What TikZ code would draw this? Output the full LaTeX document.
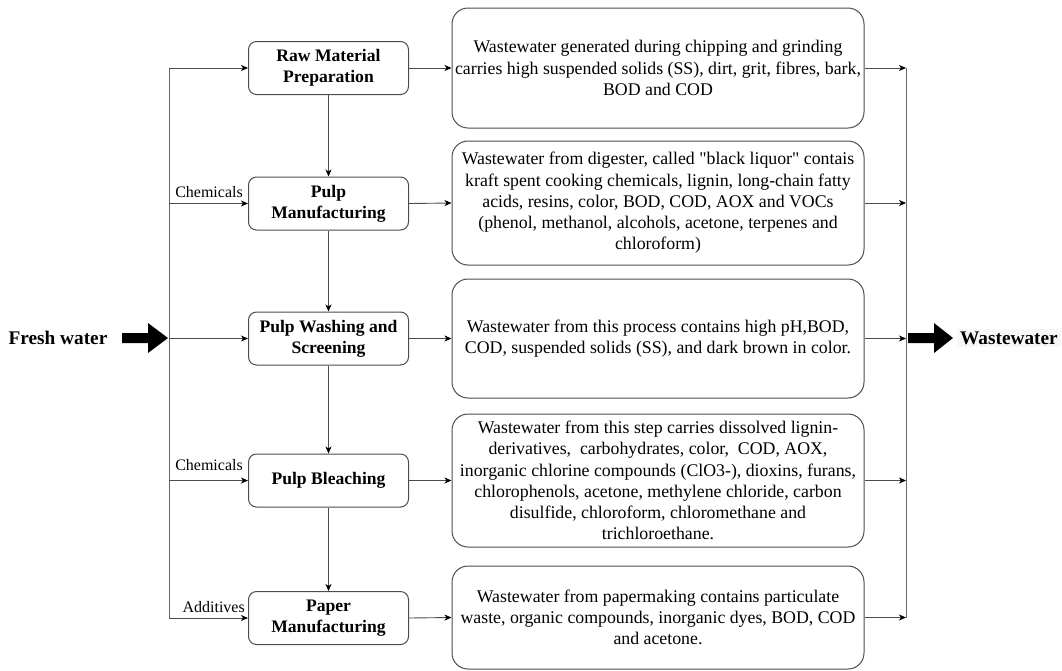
\documentclass[tikz,border=0pt]{standalone}
\usepackage{fontspec}
\setmainfont{Liberation Serif}[Ligatures=TeXOff]
\usetikzlibrary{arrows.meta}
\tikzset{
  proc/.style={draw=black!70, line width=1pt, rounded corners=8pt, minimum width=160pt,
    minimum height=53pt, align=center, inner sep=0pt,
    font=\fontsize{17.6}{21}\selectfont\bfseries},
  desc/.style={draw=black!70, line width=1pt, rounded corners=16pt, minimum width=412pt,
    align=center, inner sep=0pt, font=\fontsize{17.8}{21.3}\selectfont},
  conn/.style={draw=black!70, line width=0.9pt,
    -{Stealth[length=7pt,width=6pt,inset=2pt,color=black]}},
  bus/.style={draw=black!60, line width=1pt},
  side/.style={font=\fontsize{16}{19}\selectfont, inner sep=0pt},
  big/.style={font=\fontsize{19.3}{23}\selectfont\bfseries, inner sep=2pt},
  fat/.style={fill=black}
}
\begin{document}
\begin{tikzpicture}[x=1pt,y=-1pt]
\useasboundingbox (0,0) rectangle (1062,670);

% process boxes
\node[proc] (p1) at (328.5,68)  {Raw Material\\Preparation};
\node[proc] (p2) at (328.5,203.5) {Pulp\\Manufacturing};
\node[proc] (p3) at (328.5,338.5) {Pulp Washing and\\Screening};
\node[proc] (p4) at (328.5,480.5) {Pulp Bleaching};
\node[proc] (p5) at (328.5,618) {Paper\\Manufacturing};

% description boxes
\node[desc, minimum height=120pt] (d1) at (658,68)
  {Wastewater generated during chipping and grinding\\carries high suspended solids (SS), dirt, grit, fibres, bark,\\BOD and COD};
\node[desc, minimum height=124pt] (d2) at (658,203)
  {Wastewater from digester, called "black liquor" contais\\kraft spent cooking chemicals, lignin, long-chain fatty\\acids, resins, color, BOD, COD, AOX and VOCs\\(phenol, methanol, alcohols, acetone, terpenes and\\chloroform)};
\node[desc, minimum height=119pt] (d3) at (658,338.5)
  {Wastewater from this process contains high pH,BOD,\\COD, suspended solids (SS), and dark brown in color.};
\node[desc, minimum height=133pt] (d4) at (658,480.5)
  {Wastewater from this step carries dissolved lignin-\\derivatives,\ \ carbohydrates, color,\ \ COD, AOX,\\inorganic chlorine compounds (ClO3-), dioxins, furans,\\chlorophenols, acetone, methylene chloride, carbon\\disulfide, chloroform, chloromethane and\\trichloroethane.};
\node[desc, minimum height=103pt] (d5) at (658,617.5)
  {Wastewater from papermaking contains particulate\\waste, organic compounds, inorganic dyes, BOD, COD\\and acetone.};

% bus lines
\coordinate (lt) at (169,68);
\coordinate (lb) at (169,618);
\coordinate (rt) at (906,68);
\coordinate (rb) at (906,618);
\draw[bus] (lt) -- (lb);
\draw[bus] (rt) -- (rb);

% fresh water inputs
\foreach \p in {p1,p2,p3,p4,p5}
  \draw[conn] (\p.west -| lt) -- (\p.west);
% process to description
\foreach \i in {1,...,5}
  \draw[conn] (p\i.east) -- (d\i.west);
% descriptions to wastewater bus
\foreach \d in {d1,d2,d3,d4,d5}
  \draw[conn] (\d.east) -- (\d.east -| rt);
% vertical flow
\draw[conn] (p1) -- (p2);
\draw[conn] (p2) -- (p3);
\draw[conn] (p3) -- (p4);
\draw[conn] (p4) -- (p5);

% side labels
\node[side, anchor=base east] (c1) at (243,197) {Chemicals};
\node[side, anchor=base east] (c2) at (243,470) {Chemicals};
\node[side, anchor=base east] (a1) at (245,612) {Additives};

% fresh water
\node[big] (fw) at (58,338) {Fresh water};
\fill[fat] (122,333) -- (148,333) -- (148,323) -- (168,338) -- (148,353) -- (148,343) -- (122,343) -- cycle;

% wastewater
\fill[fat] (908,333) -- (934,333) -- (934,323) -- (953,338) -- (934,353) -- (934,343) -- (908,343) -- cycle;
\node[big, fill=black!3, inner sep=3pt] (ww) at (1009,338) {Wastewater};
\end{tikzpicture}
\end{document}
